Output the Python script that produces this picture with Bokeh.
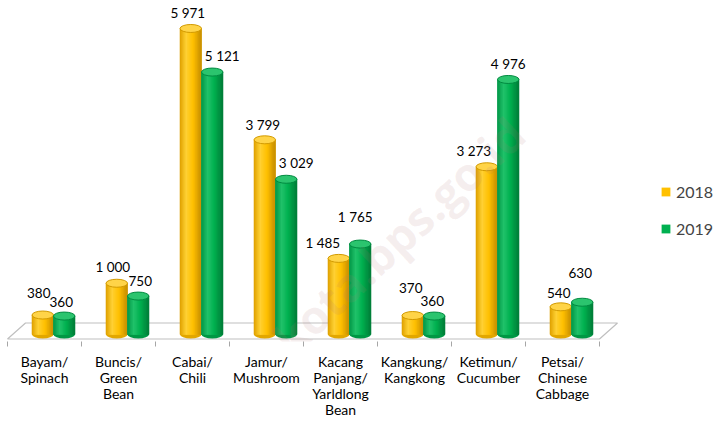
from bokeh.plotting import figure
from bokeh.models import (Range1d, LinearAxis, FixedTicker, Legend, LegendItem,
                          Label, ColumnDataSource)
from bokeh.core.properties import value
from bokeh.embed import file_html
from bokeh.resources import INLINE
import numpy as np

# ---- data ----
categories = ["Bayam/\nSpinach", "Buncis/\nGreen\nBean", "Cabai/\nChili",
              "Jamur/\nMushroom", "Kacang\nPanjang/\nYarldlong\nBean",
              "Kangkung/\nKangkong", "Ketimun/\nCucumber", "Petsai/\nChinese\nCabbage"]
series_names = ["2018", "2019"]
values_2018 = [380, 1000, 5971, 3799, 1485, 370, 3273, 540]
values_2019 = [360, 750, 5121, 3029, 1765, 360, 4976, 630]

# per-label nudges in screen px (layout only, Excel-style overlap avoidance)
label_dx_2018 = [-4, -4, -3, -2, -16, -2, -13, -2]
label_dy_2018 = [-22, -16, -15, -15, -15, -28, -16, -14]
label_dx_2019 = [-3, 2, 10, 10, -5, -2, 0, -2]
label_dy_2019 = [-14, -15, -16, -16, -27, -15, -15, -29]

# ---- geometry / style ----
W, H = 715, 421
PX_PER_CAT = 74.0
S = 0.05125               # px per unit (y)
BORDER_BOTTOM = 80        # axis band height
FRAME_H = H - BORDER_BOTTOM
BASE_FROM_BOTTOM = 7.0    # px baseline above frame bottom
y_start = -BASE_FROM_BOTTOM / S
y_end = (FRAME_H - BASE_FROM_BOTTOM) / S
x_start = -7.0 / PX_PER_CAT
x_end = x_start + W / PX_PER_CAT

DEPTH_DX = 18.0 / PX_PER_CAT
DEPTH_DY = 16.0 / S
BAR_SHIFT = 9.0 / PX_PER_CAT
BAR_W = 0.29
N_STRIPS = 18

def gradient(stops, cols, n):
    t = (np.arange(n) + 0.5) / n
    cols = np.array(cols, dtype=float)
    out = []
    for tt in t:
        rgb = [np.interp(tt, stops, cols[:, k]) for k in range(3)]
        out.append("#%02x%02x%02x" % tuple(int(round(c)) for c in rgb))
    return out

gold_strips = gradient([0, 0.3, 0.62, 1.0],
                       [(0xDC, 0x9E, 0x00), (0xFF, 0xD2, 0x36), (0xFF, 0xC0, 0x00), (0xC4, 0x8C, 0x00)], N_STRIPS)
green_strips = gradient([0, 0.3, 0.62, 1.0],
                        [(0x00, 0x94, 0x46), (0x24, 0xC4, 0x6C), (0x00, 0xB0, 0x50), (0x00, 0x7C, 0x38)], N_STRIPS)
gold_top, gold_rim = "#FFD448", "#D29A00"
green_top, green_rim = "#2BC46E", "#008A40"
base_gold, base_green = "#FFC000", "#00B050"

p = figure(width=W, height=H, output_backend="svg", toolbar_location=None,
           x_range=Range1d(x_start, x_end), y_range=Range1d(y_start, y_end),
           x_axis_type=None, y_axis_type=None,
           min_border_left=0, min_border_right=0, min_border_top=0,
           min_border_bottom=BORDER_BOTTOM)
p.outline_line_color = None
p.xgrid.visible = False
p.ygrid.visible = False
p.background_fill_color = "white"
p.border_fill_color = "white"

n = len(categories)
centers = np.arange(n) + 0.5

# floor
front_y = y_start + 2.5 / S
back_y = front_y + DEPTH_DY
p.patch([0, n, n + DEPTH_DX, DEPTH_DX], [front_y, front_y, back_y, back_y],
        fill_color="white", line_color="#BFBFBF", line_width=1.2)

def cylinder(xc, vals, strips, top_col, rim_col, base_col):
    vals = np.array(vals, dtype=float)
    k = len(strips)
    sw = BAR_W / k
    p.ellipse(x=xc, y=np.zeros_like(vals), width=BAR_W, height=8, height_units="screen",
              fill_color=strips[-4], line_color=None)
    base = p.vbar(x=xc, top=vals, bottom=0, width=BAR_W, fill_color=base_col, line_color=None)
    for j, c in enumerate(strips):
        xs = xc - BAR_W / 2 + sw * (j + 0.5)
        p.vbar(x=xs, top=vals, bottom=0, width=sw, fill_color=c, line_color=c, line_width=0.6)
    p.ellipse(x=xc, y=vals, width=BAR_W, height=8, height_units="screen",
              fill_color=top_col, line_color=rim_col, line_width=1)
    return base

x18 = centers + BAR_SHIFT - BAR_W / 2
x19 = centers + BAR_SHIFT + BAR_W / 2
r18 = cylinder(x18, values_2018, gold_strips, gold_top, gold_rim, base_gold)
r19 = cylinder(x19, values_2019, green_strips, green_top, green_rim, base_green)

def fmt(v):
    return f"{v:,}".replace(",", " ")

lab = ColumnDataSource(dict(
    x=list(x18) + list(x19),
    y=values_2018 + values_2019,
    dx=label_dx_2018 + label_dx_2019,
    dy=label_dy_2018 + label_dy_2019,
    t=[fmt(v) for v in values_2018 + values_2019]))
p.text(x="x", y="y", text="t", source=lab, x_offset="dx", y_offset="dy",
       text_align="center", text_baseline="middle",
       text_font=value("Lato"), text_font_size="13.5px", text_color="#000000")

# axis
ax = LinearAxis(ticker=FixedTicker(ticks=list(centers), minor_ticks=list(range(n + 1))))
ax.major_label_overrides = {float(c): lab_ for c, lab_ in zip(centers, categories)}
ax.axis_line_color = None
ax.major_tick_line_color = None
ax.major_tick_out = 0
ax.major_tick_in = 0
ax.minor_tick_in = 0
ax.minor_tick_out = 5
ax.minor_tick_line_color = "#A6A6A6"
ax.major_label_standoff = 6
ax.major_label_text_font = "Lato"
ax.major_label_text_font_size = "14px"
ax.major_label_text_line_height = 0.96
ax.major_label_text_color = "#000000"
p.add_layout(ax, "below")

# legend
leg = Legend(items=[LegendItem(label=series_names[0], renderers=[r18]),
                    LegendItem(label=series_names[1], renderers=[r19])],
             location=(660, 103), padding=0, margin=0, spacing=18,
             glyph_width=11, glyph_height=11, label_standoff=5,
             label_text_font="Lato", label_text_font_size="16px",
             border_line_color=None, background_fill_alpha=0)
p.add_layout(leg)

# watermark
wm = Label(x=4.81, y=1290, text="jayakota.bps.go.id", angle=43, angle_units="deg",
           text_align="center", text_baseline="middle", text_font="Open Sans",
           text_font_style="bold", text_font_size="46px", text_color="#B07878",
           text_alpha=0.12)
p.add_layout(wm)

open("out.html", "w").write(file_html(p, INLINE))
